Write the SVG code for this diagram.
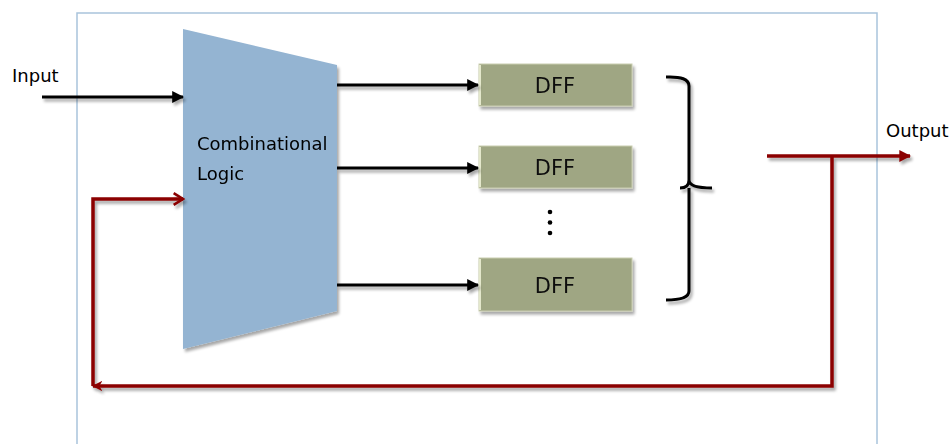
<svg xmlns="http://www.w3.org/2000/svg" width="952" height="444" viewBox="0 0 952 444">
  <style>
    .lbl { font-family: "DejaVu Sans", "Liberation Sans", sans-serif; font-size: 18px; fill: #000; }
    .dff { font-family: "DejaVu Sans", "Liberation Sans", sans-serif; font-size: 21px; fill: #111; text-anchor: middle; }
    .wire { stroke: #000; stroke-width: 3; fill: none; }
    .fb { stroke: #8b0000; stroke-width: 3.5; fill: none; }
    .box { fill: #9fa683; stroke: #c9cdb0; stroke-width: 1; }
  </style>
  <defs>
    <filter id="shadow" x="-10%" y="-10%" width="130%" height="140%">
      <feGaussianBlur in="SourceAlpha" stdDeviation="1.5"/>
      <feOffset dx="2" dy="2.5" result="b"/>
      <feComponentTransfer><feFuncA type="linear" slope="0.35"/></feComponentTransfer>
      <feMerge><feMergeNode/><feMergeNode in="SourceGraphic"/></feMerge>
    </filter>
    <marker id="arrowBlack" viewBox="0 0 10 10" refX="9" refY="5" markerWidth="4" markerHeight="4" orient="auto" markerUnits="strokeWidth">
      <path d="M0,0 L10,5 L0,10 Z" fill="#000"/>
    </marker>
    <marker id="arrowRed" viewBox="0 0 10 10" refX="9" refY="5" markerWidth="3.4" markerHeight="3.4" orient="auto" markerUnits="strokeWidth">
      <path d="M0,0 L10,5 L0,10 Z" fill="#8b0000"/>
    </marker>
    <marker id="arrowOpen" viewBox="0 0 12 12" refX="10" refY="6" markerWidth="4" markerHeight="4" orient="auto" markerUnits="strokeWidth">
      <path d="M2,1 L10,6 L2,11" fill="none" stroke="#8b0000" stroke-width="2.2"/>
    </marker>
    <marker id="arrowBarb" viewBox="0 0 10 10" refX="9" refY="5" markerWidth="3" markerHeight="3" orient="auto" markerUnits="strokeWidth">
      <path d="M0,0 L10,5 L0,10 L3,5 Z" fill="#8b0000"/>
    </marker>
  </defs>

  <!-- outer frame -->
  <rect x="77" y="13" width="800" height="460" fill="none" stroke="#a9c4dc" stroke-width="1.5"/>

  <!-- combinational logic block -->
  <g id="comb-logic" filter="url(#shadow)">
    <polygon points="183,29 337,65 337,311 183,349" fill="#94b4d2"/>
    <text class="lbl" x="197" y="150">Combinational</text>
    <text class="lbl" x="197" y="180">Logic</text>
  </g>

  <!-- flip-flops -->
  <g id="dff1" filter="url(#shadow)">
    <rect class="box" x="479" y="64" width="153" height="42"/>
    <line x1="480" y1="65" x2="480" y2="105" stroke="#e4e8cc" stroke-width="2"/>
    <text class="dff" x="555" y="93">DFF</text>
  </g>
  <g id="dff2" filter="url(#shadow)">
    <rect class="box" x="479" y="146" width="153" height="42"/>
    <line x1="480" y1="147" x2="480" y2="187" stroke="#e4e8cc" stroke-width="2"/>
    <text class="dff" x="555" y="175">DFF</text>
  </g>
  <g id="dff3" filter="url(#shadow)">
    <rect class="box" x="479" y="258" width="153" height="53"/>
    <line x1="480" y1="259" x2="480" y2="310" stroke="#e4e8cc" stroke-width="2"/>
    <text class="dff" x="555" y="293">DFF</text>
  </g>

  <!-- ellipsis between flip-flops -->
  <g id="ellipsis" fill="#000">
    <circle cx="550" cy="212" r="2.3"/>
    <circle cx="550" cy="222.5" r="2.3"/>
    <circle cx="550" cy="233" r="2.3"/>
  </g>

  <!-- grouping brace -->
  <g id="brace" filter="url(#shadow)">
    <path d="M666,77 Q689,76 689,86 L689,180 Q689,188 712,188 M689,188 Q689,190 689,196 L689,291 Q689,300 666,300 M689,180 Q689,188 680,188" fill="none" stroke="#000" stroke-width="3"/>
  </g>

  <!-- labels -->
  <g id="labels">
    <text class="lbl" x="12" y="82">Input</text>
    <text class="lbl" x="886" y="137">Output</text>
  </g>

  <!-- connectors -->
  <g id="connectors" filter="url(#shadow)">
    <line class="wire" x1="42" y1="97" x2="183" y2="97" marker-end="url(#arrowBlack)"/>
    <line class="wire" x1="337" y1="85" x2="478" y2="85" marker-end="url(#arrowBlack)"/>
    <line class="wire" x1="337" y1="168" x2="478" y2="168" marker-end="url(#arrowBlack)"/>
    <line class="wire" x1="337" y1="285" x2="478" y2="285" marker-end="url(#arrowBlack)"/>

    <line class="fb" x1="767" y1="156" x2="910" y2="156" marker-end="url(#arrowRed)"/>
    <polyline class="fb" points="832,156 832,386 93,386" marker-end="url(#arrowBarb)"/>
    <polyline class="fb" points="93,386 93,199 183,199" marker-end="url(#arrowOpen)"/>
  </g>
</svg>
